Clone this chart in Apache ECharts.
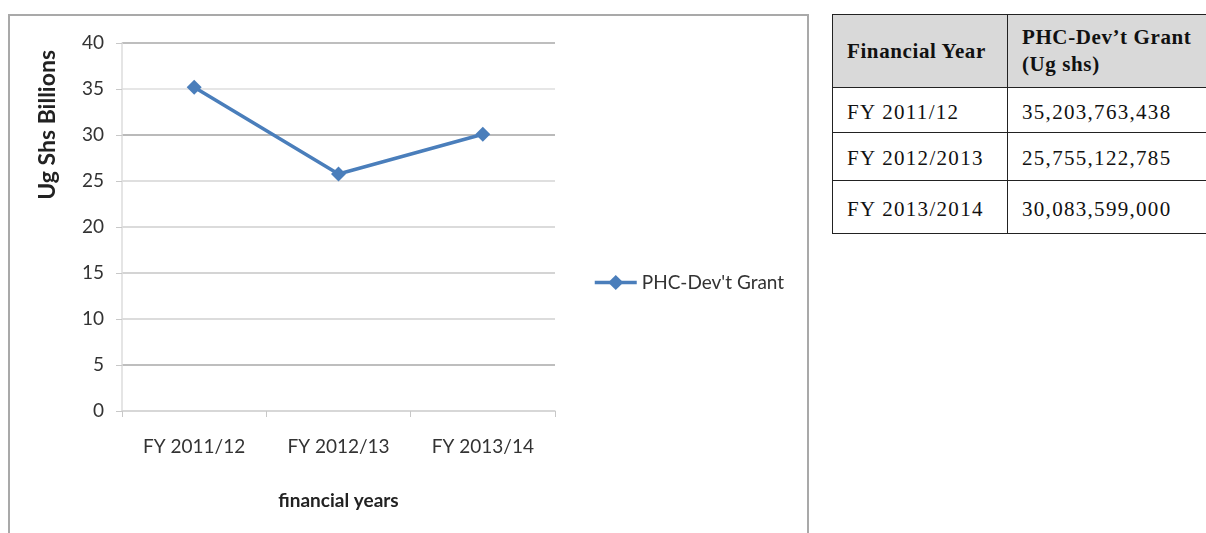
<!DOCTYPE html>
<html>
<head>
<meta charset="utf-8">
<script src="https://cdn.jsdelivr.net/npm/echarts@6/dist/echarts.min.js"></script>
<style>
  html, body { margin: 0; padding: 0; background: #fff; }
  #wrap { position: relative; width: 1206px; height: 533px; overflow: hidden; }
  #main { position: absolute; left: 0; top: 0; width: 810px; height: 533px; }
  #frame {
    position: absolute; left: 8px; top: 14px; width: 797px; height: 530px;
    border: 2px solid #a9a9a9; border-bottom: none; pointer-events: none;
  }
  #grantTable {
    position: absolute; left: 832px; top: 14px;
    border-collapse: collapse; table-layout: fixed; width: 376px;
    font-family: "Liberation Serif", "DejaVu Serif", serif;
    font-size: 21px; letter-spacing: 1.3px; color: #111;
  }
  #grantTable td, #grantTable th {
    border: 1.5px solid #222; padding: 0 0 0 14px; text-align: left;
    box-sizing: border-box;
  }
  #grantTable th { background: #d9d9d9; font-weight: bold; height: 73px; line-height: 27px; letter-spacing: 0.6px; }
  #grantTable td { padding-top: 4px; }
</style>
</head>
<body>
<div id="wrap">
  <div id="main"></div>
  <div id="frame"></div>
  <table id="grantTable"></table>
</div>
<script>
// chart data (Ug Shs billions)
var years = ['FY 2011/12', 'FY 2012/13', 'FY 2013/14'];
var grant = [35.2, 25.76, 30.08];
var seriesName = "PHC-Dev't Grant";

// table next to the chart
var tableHead = ['Financial Year', 'PHC-Dev\u2019t Grant<br>(Ug shs)'];
var tableYears = ['FY 2011/12', 'FY 2012/2013', 'FY 2013/2014'];
var tableGrants = ['35,203,763,438', '25,755,122,785', '30,083,599,000'];
var rowHeights = [45, 48, 53];

var html = '<colgroup><col style="width:175px"><col style="width:201px"></colgroup>' +
  '<tr><th>' + tableHead[0] + '</th><th>' + tableHead[1] + '</th></tr>';
for (var i = 0; i < tableYears.length; i++) {
  html += '<tr style="height:' + rowHeights[i] + 'px"><td>' + tableYears[i] + '</td><td>' + tableGrants[i] + '</td></tr>';
}
document.getElementById('grantTable').innerHTML = html;

var labelFont = 'Lato, "Open Sans", sans-serif';
var blue = '#4a7ebb';

var myChart = echarts.init(document.getElementById('main'));
myChart.setOption({
  animation: false,
  grid: { left: 122, right: 255, top: 43, bottom: 122 },
  legend: {
    left: 588, top: 268,
    itemWidth: 42, itemHeight: 19, itemGap: 6,
    lineStyle: { width: 3.5 },
    textStyle: { fontFamily: labelFont, fontSize: 19, color: '#333' },
    data: [seriesName]
  },
  xAxis: {
    type: 'category',
    data: years,
    boundaryGap: true,
    axisLine: { lineStyle: { color: '#d4d4d4', width: 1.5 } },
    axisTick: { show: true, length: 6, alignWithLabel: false, lineStyle: { color: '#c8c8c8' } },
    axisLabel: { margin: 26, fontFamily: labelFont, fontSize: 19, color: '#333' },
    name: 'financial years',
    nameLocation: 'middle',
    nameGap: 80,
    nameTextStyle: { fontFamily: labelFont, fontSize: 19, fontWeight: 'bold', color: '#222' }
  },
  yAxis: {
    type: 'value',
    min: 0, max: 40, interval: 5,
    axisLine: { show: true, lineStyle: { color: '#dcdcdc', width: 1.5 } },
    axisTick: { show: true, length: 6, lineStyle: { color: '#c8c8c8' } },
    axisLabel: { margin: 18, fontFamily: labelFont, fontSize: 19, color: '#333' },
    splitLine: {
      lineStyle: {
        color: ['#d6d6d6', '#a9a9a9', '#d0d0d0', '#c6c6c6', '#cfcfcf', '#d4d4d4', '#a3a3a3', '#dedede', '#a9a9a9'],
        width: 1.5
      }
    }
  },
  graphic: [{
    type: 'text',
    left: 36, top: 50,
    rotation: Math.PI / 2,
    style: {
      text: 'Ug Shs Billions',
      font: 'bold 23px ' + labelFont,
      fill: '#222'
    }
  }],
  series: [{
    name: seriesName,
    type: 'line',
    data: grant,
    symbol: 'diamond',
    symbolSize: 15,
    lineStyle: { color: blue, width: 3.5 },
    itemStyle: { color: blue }
  }]
});
</script>
</body>
</html>
